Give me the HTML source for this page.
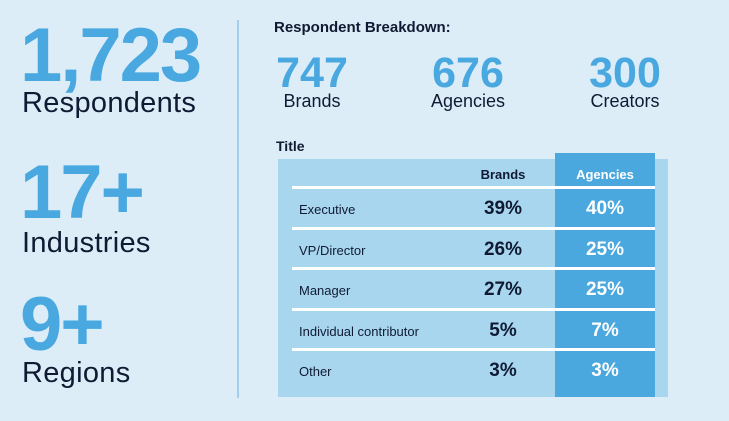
<!DOCTYPE html>
<html><head><meta charset="utf-8"><style>
body{margin:0;width:729px;height:421px;background:#dcedf8;font-family:"Liberation Sans",sans-serif;color:#101a33;position:relative;overflow:hidden}
.a{position:absolute;white-space:nowrap}
.big{color:#49a8df;font-weight:bold;font-size:76px;letter-spacing:-2px;line-height:1}
.lab{font-size:29px;line-height:1;letter-spacing:0.3px}
.mid{color:#49a8df;font-weight:bold;font-size:43px;line-height:1;text-align:center;width:120px}
.ml{font-size:18px;text-align:center;width:120px;line-height:1}
.row{position:absolute;left:292px;width:363px;height:41px;border-top:3px solid #fff;box-sizing:border-box}
.rl{position:absolute;left:7px;top:13px;font-size:13px}
.bv{position:absolute;left:180px;width:62px;text-align:center;top:9px;font-size:19px;font-weight:bold}
.av{position:absolute;left:263px;width:100px;text-align:center;top:9px;font-size:19px;font-weight:bold;color:#fff}
</style></head><body>
<div class="a big" style="left:20px;top:18px">1,723</div>
<div class="a lab" style="left:22px;top:89px">Respondents</div>
<div class="a big" style="left:20px;top:155px">17+</div>
<div class="a lab" style="left:22px;top:229px">Industries</div>
<div class="a big" style="left:20px;top:287px">9+</div>
<div class="a lab" style="left:22px;top:359px">Regions</div>
<div class="a" style="left:237px;top:20px;width:2px;height:378px;background:#a4cfec"></div>
<div class="a" style="left:274px;top:19px;font-size:15px;font-weight:bold">Respondent Breakdown:</div>
<div class="a mid" style="left:252px;top:52px">747</div>
<div class="a ml" style="left:252px;top:92px">Brands</div>
<div class="a mid" style="left:408px;top:52px">676</div>
<div class="a ml" style="left:408px;top:92px">Agencies</div>
<div class="a mid" style="left:565px;top:52px">300</div>
<div class="a ml" style="left:565px;top:92px">Creators</div>
<div class="a" style="left:276px;top:138px;font-size:14px;font-weight:bold">Title</div>
<div class="a" style="left:278px;top:159px;width:390px;height:238px;background:#a9d6ef"></div>
<div class="a" style="left:555px;top:153px;width:100px;height:244px;background:#4aa8de"></div>
<div class="a" style="left:472px;top:167px;width:62px;text-align:center;font-size:13px;font-weight:bold">Brands</div>
<div class="a" style="left:555px;top:167px;width:100px;text-align:center;font-size:13px;font-weight:bold;color:#fff">Agencies</div>
<div id="rows"></div>
<script>
const labels=["Executive","VP/Director","Manager","Individual contributor","Other"];
const brands=[39,26,27,5,3];
const agencies=[40,25,25,7,3];
const c=document.getElementById('rows');
labels.forEach((l,i)=>{
 const r=document.createElement('div');r.className='row';r.style.top=(186+i*40.6)+'px';
 
 
 r.innerHTML='<div class="rl">'+l+'</div><div class="bv">'+brands[i]+'%</div><div class="av">'+agencies[i]+'%</div>';
 c.appendChild(r);
});
</script>
</body></html>
